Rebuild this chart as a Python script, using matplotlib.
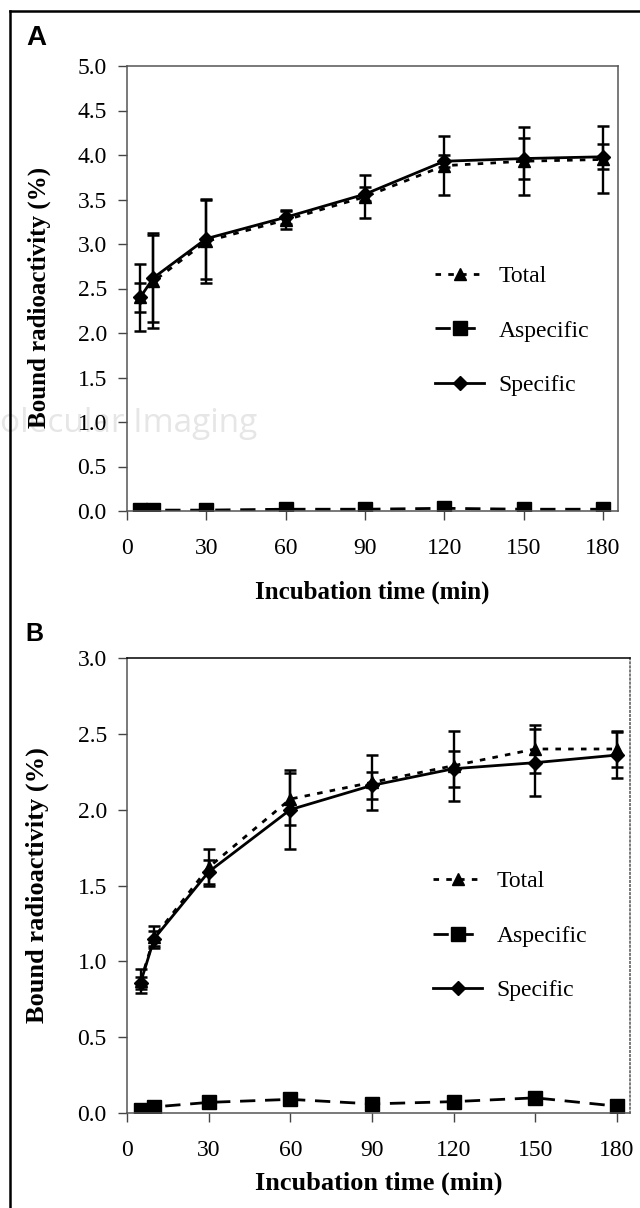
import matplotlib
matplotlib.use('Agg')
import matplotlib.pyplot as plt
from matplotlib.lines import Line2D

# incubation times (min)
times = [5, 10, 30, 60, 90, 120, 150, 180]

# panel A
total_a = [2.40, 2.58, 3.03, 3.27, 3.53, 3.88, 3.93, 3.95]
total_a_err = [0.38, 0.52, 0.47, 0.10, 0.24, 0.33, 0.38, 0.38]
aspec_a = [0.01, 0.01, 0.01, 0.02, 0.02, 0.03, 0.02, 0.02]
spec_a = [2.40, 2.62, 3.06, 3.30, 3.56, 3.93, 3.96, 3.98]
spec_a_err = [0.16, 0.50, 0.45, 0.08, 0.08, 0.07, 0.23, 0.14]

# panel B
total_b = [0.87, 1.16, 1.62, 2.07, 2.18, 2.29, 2.40, 2.40]
total_b_err = [0.08, 0.07, 0.12, 0.17, 0.18, 0.23, 0.16, 0.12]
aspec_b = [0.02, 0.04, 0.07, 0.09, 0.06, 0.075, 0.10, 0.045]
spec_b = [0.86, 1.15, 1.59, 2.00, 2.16, 2.27, 2.31, 2.36]
spec_b_err = [0.04, 0.05, 0.08, 0.26, 0.09, 0.12, 0.22, 0.15]

xticks = [0, 30, 60, 90, 120, 150, 180]
yticks_a = [0.0, 0.5, 1.0, 1.5, 2.0, 2.5, 3.0, 3.5, 4.0, 4.5, 5.0]
yticks_b = [0.0, 0.5, 1.0, 1.5, 2.0, 2.5, 3.0]

plt.rcParams['font.family'] = ['Liberation Serif', 'DejaVu Serif']
TICK_FS = 17
LEG_FS = 17

TOTAL_LS = (0, (2.0, 2.6))
ASPEC_LS = (0, (5.5, 3.5))

fig = plt.figure(figsize=(6.4, 12.08), dpi=100)

# faint journal watermark behind panel A
fig.text(0.0, 1 - 424 / 1208, 'olecular Imaging', ha='left', va='center',
         fontsize=24, color='#e6e6e6', family='Open Sans', zorder=-1)

# outer frame (left and top edges)
fig.add_artist(Line2D([10 / 640, 10 / 640], [0, 1 - 11 / 1208], color='black', lw=1.8,
                      transform=fig.transFigure))
fig.add_artist(Line2D([10 / 640, 1], [1 - 11 / 1208, 1 - 11 / 1208], color='black', lw=1.8,
                      transform=fig.transFigure))

ax1 = fig.add_axes([127 / 640, 1 - 511 / 1208, 491 / 640, 445 / 1208])
ax2 = fig.add_axes([127 / 640, 1 - 1113 / 1208, 503 / 640, 455 / 1208])


def draw_panel(ax, total, total_err, aspec, spec, spec_err, yticks, xmax,
               lab_y, ylab_y, lab_fs):
    ax.patch.set_alpha(0)
    eb = dict(ecolor='black', elinewidth=1.7, capsize=4.3, capthick=1.8)
    ax.errorbar(times, total, yerr=total_err, color='black', lw=2,
                linestyle=TOTAL_LS, marker='^', markersize=9, **eb)
    ax.plot(times, aspec, color='black', lw=2, linestyle=ASPEC_LS,
            marker='s', markersize=10)
    ax.errorbar(times, spec, yerr=spec_err, color='black', lw=2, linestyle='-',
                marker='D', markersize=7.5, **eb)

    ax.set_xlim(0, xmax)
    ax.set_ylim(0, yticks[-1])
    ax.set_xticks(xticks)
    ax.set_yticks(yticks)
    ax.set_yticklabels([f'{v:.1f}' for v in yticks])
    ax.tick_params(axis='both', direction='out', length=6.5, width=1, color='#444444',
                   labelsize=TICK_FS)
    ax.tick_params(axis='x', pad=13)
    ax.tick_params(axis='y', pad=8)
    for s in ax.spines.values():
        s.set_color('#555555')
        s.set_linewidth(1.1)

    ax.text(0.5, lab_y, 'Incubation time (min)', transform=ax.transAxes, ha='center',
            va='center', fontsize=lab_fs, fontweight='bold')
    ax.text(-0.178, ylab_y, 'Bound radioactivity (%)', transform=ax.transAxes, ha='center',
            va='center', rotation=90, fontsize=lab_fs, fontweight='bold')


draw_panel(ax1, total_a, total_a_err, aspec_a, spec_a, spec_a_err, yticks_a, 185.7,
           -81 / 445, 0.481, 18)
draw_panel(ax2, total_b, total_b_err, aspec_b, spec_b, spec_b_err, yticks_b, 184.8,
           -70 / 455, 0.501, 19)

ax2.spines['top'].set_color('black')
ax2.spines['right'].set_linestyle(':')

# legend handles without error bars, in the reference order
handles = [
    Line2D([], [], color='black', lw=2, linestyle=TOTAL_LS, marker='^', markersize=9),
    Line2D([], [], color='black', lw=2, linestyle=ASPEC_LS, marker='s', markersize=10),
    Line2D([], [], color='black', lw=2, linestyle='-', marker='D', markersize=7.5),
]
labels = ['Total', 'Aspecific', 'Specific']
leg_kw = dict(loc='center left', frameon=False, fontsize=LEG_FS, handlelength=2.1,
              handletextpad=0.6, labelspacing=1.4, borderpad=0, borderaxespad=0)
ax1.legend(handles, labels, bbox_to_anchor=(0.627, 0.4045), **leg_kw)
ax2.legend(handles, labels, bbox_to_anchor=(0.608, 0.389), **leg_kw)

fig.text(26 / 640, 1 - 38 / 1208, 'A', ha='left', va='center', fontsize=20,
         fontweight='bold', family='Liberation Sans')
fig.text(25 / 640, 1 - 634 / 1208, 'B', ha='left', va='center', fontsize=18,
         fontweight='bold', family='Liberation Sans')

fig.savefig('out.png', dpi=100)
